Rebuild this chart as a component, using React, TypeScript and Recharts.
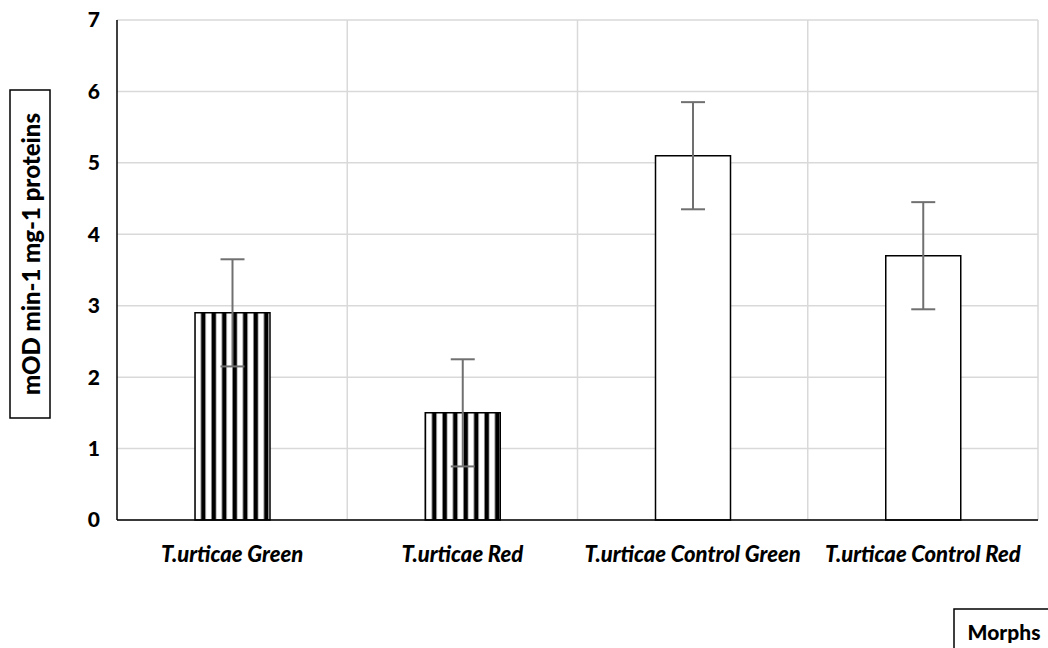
import React from "react";
import { BarChart, Bar, XAxis, YAxis, CartesianGrid, ErrorBar, Cell } from "recharts";

const categories = ["T.urticae Green", "T.urticae Red", "T.urticae Control Green", "T.urticae Control Red"];
const values = [2.9, 1.5, 5.1, 3.7];
const errors = [0.75, 0.75, 0.75, 0.75];
const patterned = [true, true, false, false];
const yTicks = [0, 1, 2, 3, 4, 5, 6, 7];

const data = categories.map((name, i) => ({ name, value: values[i], err: errors[i] }));

const FONT = "Lato, 'Liberation Sans', sans-serif";
const FS = 21;

const YLabel = () => {
  const cy = 254;
  const cx = 30;
  return (
    <g>
      <rect x={10} y={90} width={40} height={328} fill="#fff" stroke="#000" strokeWidth={1.5} />
      <text
        x={cx}
        y={cy}
        transform={`rotate(-90 ${cx} ${cy})`}
        textAnchor="middle"
        dominantBaseline="central"
        fontFamily={FONT}
        fontWeight={900}
        fontSize={24}
        fill="#000"
      >
        mOD min-1 mg-1 proteins
      </text>
    </g>
  );
};

const XLabel = () => (
  <g>
    <rect x={954} y={609} width={100} height={45} fill="#fff" stroke="#000" strokeWidth={1.5} />
    <text x={1004} y={631} textAnchor="middle" dominantBaseline="central" fontFamily={FONT} fontWeight={900} fontSize={FS} fill="#000">
      Morphs
    </text>
  </g>
);

export default function App() {
  return (
    <div style={{ position: "absolute", left: 0, top: 0, width: 1048, height: 648, background: "#fff" }}>
      <svg width={0} height={0} style={{ position: "absolute" }}>
        <defs>
          <pattern id="vstripes" patternUnits="userSpaceOnUse" width={10.5} height={10}>
            <rect x={0} y={0} width={10.5} height={10} fill="#fff" />
            <rect x={1.5} y={0} width={4.5} height={10} fill="#000" />
          </pattern>
        </defs>
      </svg>
      <BarChart
        width={1048}
        height={648}
        data={data}
        margin={{ top: 20, right: 10, bottom: 98, left: 0 }}
        barSize={75}
      >
        <CartesianGrid
          stroke="#d9d9d9"
          strokeWidth={1.5}
          verticalCoordinatesGenerator={(p: any) => {
            const off = p.offset;
            const w = off.width / categories.length;
            return categories.map((_, i) => off.left + w * (i + 1));
          }}
        />
        <XAxis
          dataKey="name"
          height={30}
          axisLine={{ stroke: "#000", strokeWidth: 1.5 }}
          tickLine={false}
          tickMargin={20}
          tick={{ fontFamily: FONT, fontWeight: 900, fontStyle: "italic", fontSize: 22, fill: "#000" }}
          interval={0}
          label={<XLabel />}
        />
        <YAxis
          width={117}
          domain={[0, 7]}
          ticks={yTicks}
          interval={0}
          axisLine={{ stroke: "#000", strokeWidth: 1.5 }}
          tickLine={false}
          tickSize={0}
          tickMargin={17}
          tick={{ fontFamily: FONT, fontWeight: 900, fontSize: FS, fill: "#000" }}
          label={<YLabel />}
        />
        <Bar dataKey="value" isAnimationActive={false} stroke="#000" strokeWidth={1.5}>
          {data.map((d, i) => (
            <Cell key={i} fill={patterned[i] ? "url(#vstripes)" : "#fff"} />
          ))}
          <ErrorBar dataKey="err" width={12} stroke="#707070" strokeWidth={2} direction="y" />
        </Bar>
      </BarChart>
    </div>
  );
}
